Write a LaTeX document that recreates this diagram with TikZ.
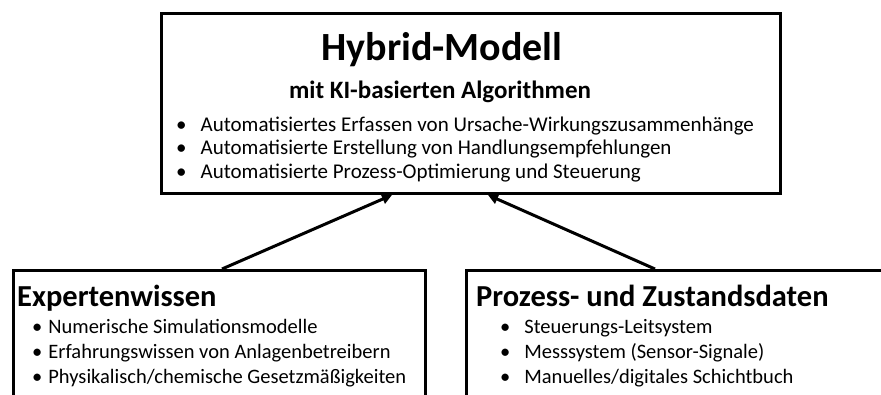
\documentclass[tikz,border=0pt]{standalone}
\usepackage{fontspec}
\setmainfont{Carlito}
\usetikzlibrary{arrows.meta}
\begin{document}
\begin{tikzpicture}[x=1pt,y=-1pt,
  box/.style={draw=black, line width=3pt, anchor=north west, inner sep=0pt},
  arr/.style={line width=3pt, -{Triangle[length=10pt,width=10pt]}},
  title/.style={font=\bfseries\fontsize{40}{40}\selectfont, anchor=base},
  sub/.style={font=\bfseries\fontsize{25}{25}\selectfont, anchor=base},
  head/.style={font=\bfseries\fontsize{30.5}{30.5}\selectfont, anchor=base west, inner sep=0pt},
  item/.style={font=\fontsize{21}{21}\selectfont, anchor=base west, inner sep=0pt},
  bitem/.style={font=\fontsize{20.5}{20.5}\selectfont, anchor=base west, inner sep=0pt}]
\useasboundingbox (0,0) rectangle (881,394);
\clip (0,0) rectangle (881,394);
\fill[white] (0,0) rectangle (881,394);
% boxes
\node[box, minimum width=619pt, minimum height=180pt] (top) at (160,12) {};
\node[box, minimum width=412pt, minimum height=150pt] (lb) at (12,269) {};
\node[box, minimum width=450pt, minimum height=150pt] (rb) at (465,269) {};
% top text
\node[title] (t1) at (442,60) {Hybrid-Modell};
\node[sub] (t2) at (440,98) {mit KI-basierten Algorithmen};
\node[item] (i1) at (176,131) {•\hspace{14pt}Automatisiertes Erfassen von Ursache-Wirkungszusammenhänge};
\node[item] (i2) at (176,154) {•\hspace{14pt}Automatisierte Erstellung von Handlungsempfehlungen};
\node[item] (i3) at (176,178) {•\hspace{14pt}Automatisierte Prozess-Optimierung und Steuerung};
% left text
\node[head] (l0) at (17,306) {Expertenwissen};
\node[bitem] (l1) at (32,333) {•\hspace{6pt}Numerische Simulationsmodelle};
\node[bitem] (l2) at (32,358) {•\hspace{6pt}Erfahrungswissen von Anlagenbetreibern};
\node[bitem] (l3) at (32,383) {•\hspace{6pt}Physikalisch/chemische Gesetzmäßigkeiten};
% right text
\node[head] (r0) at (476,306) {Prozess- und Zustandsdaten};
\node[bitem] (r1) at (500,333) {•\hspace{14pt}Steuerungs-Leitsystem};
\node[bitem] (r2) at (500,358) {•\hspace{14pt}Messsystem (Sensor-Signale)};
\node[bitem] (r3) at (500,383) {•\hspace{14pt}Manuelles/digitales Schichtbuch};
% arrows
\draw[arr] ([xshift=210pt]lb.north west) -- ([xshift=232pt]top.south west);
\draw[arr] ([xshift=190pt]rb.north west) -- ([xshift=328pt]top.south west);
\end{tikzpicture}
\end{document}
